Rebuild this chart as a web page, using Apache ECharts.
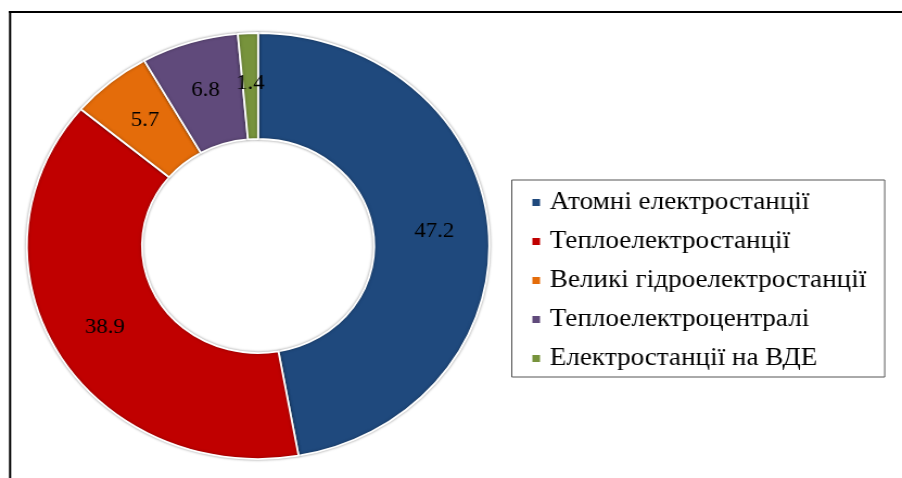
<!DOCTYPE html>
<html>
<head>
<meta charset="utf-8">
<script src="https://cdn.jsdelivr.net/npm/echarts@6/dist/echarts.min.js"></script>
<style>
html,body{margin:0;padding:0;background:#fff;overflow:hidden;width:902px;height:478px}
#c{width:831px;height:478px;transform:scaleX(1.0854);transform-origin:0 0}
</style>
</head>
<body>
<div id="c"></div>
<script>
const categories = ['Атомні електростанції','Теплоелектростанції','Великі гідроелектростанції','Теплоелектроцентралі','Електростанції на ВДЕ'];
const values = [47.2, 38.9, 5.7, 6.8, 1.4];
const colors = ['#1F497D','#C00000','#E46C0A','#604A7B','#77933C'];

const chart = echarts.init(document.getElementById('c'), null, {renderer:'canvas'});
const font = 'Liberation Serif';
chart.setOption({
  animation: false,
  color: colors,
  graphic: [
    {type:'line', shape:{x1:8, y1:12, x2:831, y2:12}, style:{stroke:'#000', lineWidth:2.2}},
    {type:'line', shape:{x1:9.3, y1:11, x2:9.3, y2:478}, style:{stroke:'#000', lineWidth:2}}
  ],
  legend: {
    orient: 'vertical',
    left: 471.5, top: 180,
    padding: [10, 17, 6, 17],
    borderColor: '#555', borderWidth: 1,
    itemWidth: 9, itemHeight: 9, itemGap: 14,
    icon: 'rect',
    textStyle: {fontFamily: font, fontSize: 25, color: '#000', lineHeight: 25, padding:[0,0,0,3]},
    data: categories
  },
  series: [{
    type: 'pie',
    center: [237.8, 246],
    radius: [107, 213],
    startAngle: 90,
    clockwise: true,
    avoidLabelOverlap: false,
    itemStyle: {borderColor: '#fff', borderWidth: 1.8, shadowBlur: 3, shadowColor: 'rgba(0,0,0,0.35)'},
    label: {show: true, position: 'inside', fontFamily: font, fontSize: 21, color: '#000',
      formatter: p => p.value.toFixed(1)},
    labelLine: {show:false},
    emphasis: {disabled: true},
    data: categories.map((n,i)=>({name:n, value: values[i]}))
  }]
});
</script>
</body>
</html>
